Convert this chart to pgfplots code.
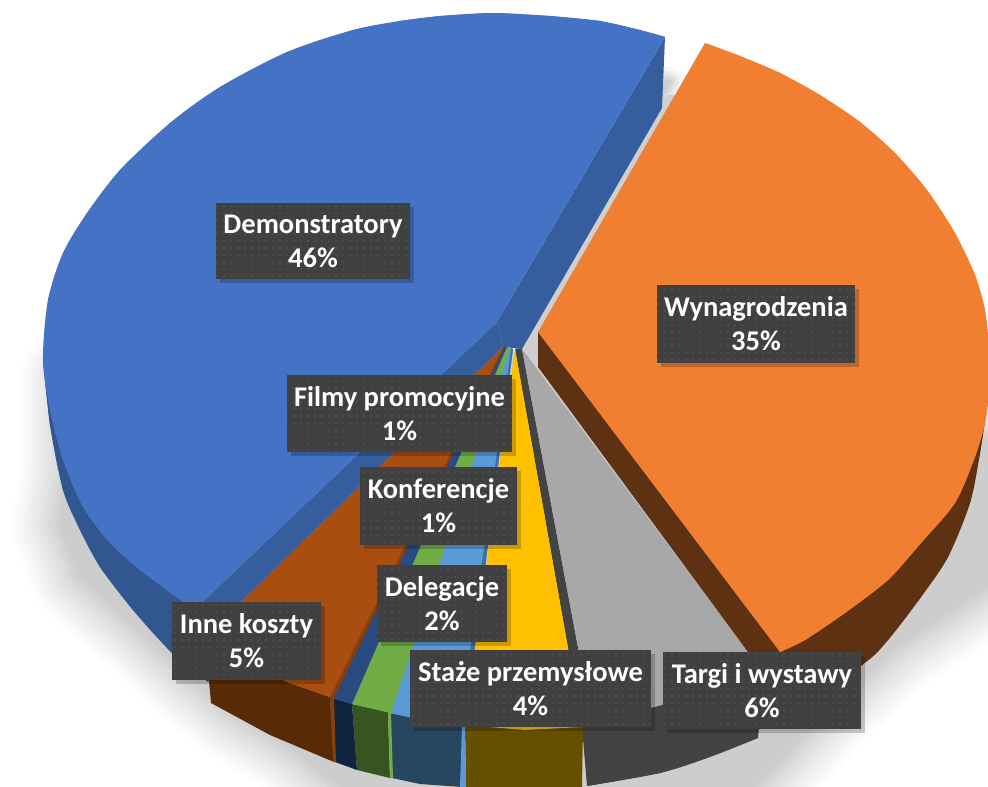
\documentclass[border=0pt]{standalone}
\usepackage{fontspec}
\usepackage{pgfplots}
\pgfplotsset{compat=1.18}
\usetikzlibrary{patterns.meta,shadows}
\setmainfont{Carlito}
\definecolor{cBlue}{HTML}{4472C4}
\definecolor{cBlueW}{HTML}{365E9F}
\definecolor{cBlueO}{HTML}{315690}
\definecolor{cOrange}{HTML}{F07F32}
\definecolor{cOrangeW}{HTML}{5F3113}
\definecolor{cGray}{HTML}{A8A8A8}
\definecolor{cGrayW}{HTML}{434343}
\definecolor{cYellow}{HTML}{FFC000}
\definecolor{cYellowW}{HTML}{674F00}
\definecolor{cLB}{HTML}{5B9BD5}
\definecolor{cLBW}{HTML}{274660}
\definecolor{cLBS}{HTML}{41709F}
\definecolor{cGreen}{HTML}{70AD47}
\definecolor{cGreenW}{HTML}{375520}
\definecolor{cDB}{HTML}{2A4A82}
\definecolor{cDBW}{HTML}{10233F}
\definecolor{cBrown}{HTML}{A84E10}
\definecolor{cBrownW}{HTML}{592A06}
\definecolor{cBrownS}{HTML}{843F0C}
\definecolor{cBox}{HTML}{404040}
\definecolor{cDot}{HTML}{595959}
\pgfplotstableread{
x y
70 380
70 470
62 525
80 575
140 628
190 675
235 712
290 745
360 800
740 800
830 705
895 645
1010 570
1010 450
900 400
640 130
540 300
500 300
}\shadowtab
\pgfplotstableread{
x y
666 80
670 82
540 330
525 345
}\gaptab
\tikzset{lbl/.style={fill=cBox, text=white, align=center, inner sep=0pt,
  font=\fontsize{28.5}{34}\selectfont\bfseries,
  drop shadow={shadow xshift=4pt,shadow yshift=-4pt,opacity=.2,fill=black},
  postaction={pattern={Dots[distance=7pt,radius=.8pt]},pattern color=cDot}}}
\newcommand{\shad}[2]{\addplot[draw=#1,fill=#1,line width=#2,line join=round] table {\shadowtab} -- cycle;}
\newcommand{\gapshad}[2]{\addplot[draw=#1,fill=#1,line width=#2,line join=round] table {\gaptab} -- cycle;}
\begin{document}
\begin{tikzpicture}
\begin{axis}[scale only axis,width=988pt,height=787pt,xmin=0,xmax=988,ymin=0,ymax=787,
  y dir=reverse,hide axis,clip=true,
  every axis plot/.append style={no markers,solid}]
% soft shadow
\shad{black!1}{100pt}
\shad{black!2}{92pt}
\shad{black!3.5}{84pt}
\shad{black!5}{76pt}
\shad{black!6.5}{68pt}
\shad{black!8}{60pt}
\shad{black!9.5}{52pt}
\shad{black!11}{44pt}
\shad{black!12.5}{36pt}
\shad{black!14}{28pt}
\shad{black!16}{20pt}
\shad{black!18}{12pt}
\shad{black!19.5}{4pt}
\gapshad{black!4}{26pt}
\gapshad{black!9}{18pt}
\gapshad{black!14}{10pt}
\gapshad{black!19}{3pt}
\addplot[draw=none,fill=black!19] coordinates {(668,95)(690,95)(560,345)(538,375)(515,375)(515,345)(640,120)} -- cycle;
% blue walls
\addplot[draw=none,fill=cBlueO] coordinates {(43,360)(50,425)(63,490)(80,530)(100,567)(133,610)(172,653)(208,682)(230,640)(193,611)} -- cycle;
\addplot[smooth,draw=none,fill=cBlueO] coordinates {(43,360)(50,425)(63,490)(80,530)(100,567)(133,610)(172,653)(208,682)};
\addplot[draw=none,fill=cBlueW] coordinates {(497,322)(503,347)(205,637)(193,611)} -- cycle;
\addplot[draw=none,fill=cBlueW] coordinates {(665,37)(662,108)(522,349)(503,347)(497,322)} -- cycle;
% blue top
\addplot[draw=none,fill=cBlue] coordinates {(497,322)(665,37)(640,30)(600,21)(550,16)(493,13)(440,16)(400,21)(353,30)(287,52)(220,87)(170,123)(120,170)(87,213)(63,253)(48,300)(43,360)(50,410)(63,460)(83,507)(110,543)(140,570)(183,602)(193,611)} -- cycle;
\addplot[smooth,draw=none,fill=cBlue] coordinates {(665,37)(640,30)(600,21)(550,16)(493,13)(440,16)(400,21)(353,30)(287,52)(220,87)(170,123)(120,170)(87,213)(63,253)(48,300)(43,360)(50,410)(63,460)(83,507)(110,543)(140,570)(183,602)(193,611)};
% gray
\addplot[draw=none,fill=cGrayW] coordinates {(582,727)(650,708)(700,695)(765,668)(758,738)(660,773)(587,786)} -- cycle;
\addplot[smooth,draw=none,fill=cGrayW] coordinates {(758,738)(710,757)(660,773)(587,786)};
\addplot[draw=none,fill=cGrayW] coordinates {(515,349)(522,349)(592,722)(582,727)} -- cycle;
\addplot[draw=none,fill=cGray] coordinates {(522,349)(748,652)(765,668)(700,695)(650,708)(592,722)} -- cycle;
% yellow
\addplot[draw=none,fill=cYellowW] coordinates {(465,725)(583,727)(582,787)(466,787)} -- cycle;
\addplot[draw=none,fill=cYellow] coordinates {(515,349)(582,727)(525,730)(465,725)} -- cycle;
% light blue
\addplot[draw=none,fill=cLBW] coordinates {(390,713)(410,717)(464,726)(462,787)(420,784)(392,778)} -- cycle;
\addplot[draw=none,fill=cLB] coordinates {(462,726)(465,726)(466,787)(460,787)} -- cycle;
\addplot[draw=none,fill=cLB] coordinates {(510,347)(513,349)(465,725)(430,722)(390,713)} -- cycle;
\addplot[draw=none,fill=cLBS] coordinates {(513,349)(465,725)(460,725)(511,349)} -- cycle;
% green
\addplot[draw=none,fill=cGreenW] coordinates {(352,704)(388,712)(390,778)(357,770)} -- cycle;
\addplot[draw=none,fill=cGreen] coordinates {(388,712)(391,713)(393,778)(390,778)} -- cycle;
\addplot[draw=none,fill=cGreen] coordinates {(507,347)(510,347)(391,713)(352,704)} -- cycle;
% dark blue
\addplot[draw=none,fill=cDBW] coordinates {(330,697)(352,704)(357,770)(335,762)} -- cycle;
\addplot[draw=none,fill=cDB] coordinates {(504,347)(507,347)(352,704)(330,697)} -- cycle;
% brown
\addplot[draw=none,fill=cBrownW] coordinates {(205,637)(287,682)(330,697)(334,762)(270,735)(211,703)} -- cycle;
\addplot[draw=none,fill=cBrownS] coordinates {(330,697)(334,698)(336,762)(333,762)} -- cycle;
\addplot[draw=none,fill=cBrown] coordinates {(503,347)(205,637)(240,660)(287,682)(330,697)} -- cycle;
\addplot[draw=none,fill=cBrownS] coordinates {(503,347)(505,347)(334,698)(330,697)} -- cycle;
% orange
\addplot[draw=none,fill=cOrangeW] coordinates {(538,332)(538,367)(748,652)(775,722)(862,665)(888,640)(921,597)(948,557)(970,503)(980,453)(988,400)(800,400)} -- cycle;
\addplot[smooth,draw=none,fill=cOrangeW] coordinates {(775,722)(862,665)(888,640)(921,597)(948,557)(970,503)(980,453)(988,400)};
\addplot[draw=none,fill=cOrange] coordinates {(538,332)(705,43)(740,56)(780,73)(820,95)(860,122)(895,153)(927,190)(955,233)(975,275)(985,310)(989,350)(989,390)(985,423)(975,457)(955,503)(921,543)(888,580)(845,613)(805,640)(780,652)} -- cycle;
\addplot[smooth,draw=none,fill=cOrange] coordinates {(705,43)(740,56)(780,73)(820,95)(860,122)(895,153)(927,190)(955,233)(975,275)(985,310)(989,350)(989,390)(985,423)(975,457)(955,503)(921,543)(888,580)(845,613)(805,640)(780,652)};
% labels
\node[lbl,minimum width=194pt,minimum height=76pt] at (axis cs:313,241) {Demonstratory\\46\%};
\node[lbl,minimum width=198pt,minimum height=78pt] at (axis cs:756,324) {Wynagrodzenia\\35\%};
\node[lbl,minimum width=225pt,minimum height=77pt] at (axis cs:399.5,413.5) {Filmy promocyjne\\1\%};
\node[lbl,minimum width=157pt,minimum height=78pt] at (axis cs:438.5,506) {Konferencje\\1\%};
\node[lbl,minimum width=130pt,minimum height=77pt] at (axis cs:442,603.5) {Delegacje\\2\%};
\node[lbl,minimum width=149pt,minimum height=78pt] at (axis cs:246.5,641) {Inne koszty\\5\%};
\node[lbl,minimum width=241pt,minimum height=77pt] at (axis cs:530.5,688.5) {Staże przemysłowe\\4\%};
\node[lbl,minimum width=198pt,minimum height=77pt] at (axis cs:762,690.5) {Targi i wystawy\\6\%};
\end{axis}
\pgfresetboundingbox
\useasboundingbox (0,0) rectangle (988pt,787pt);
\end{tikzpicture}
\end{document}
